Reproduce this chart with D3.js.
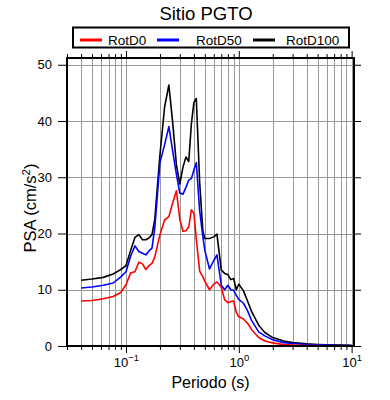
<!DOCTYPE html>
<html>
<head>
<meta charset="utf-8">
<script src="https://cdn.jsdelivr.net/npm/d3@7"></script>
<style>
  body { margin: 0; background: #fff; }
  svg { display: block; font-family: "Liberation Sans", Arial, Helvetica, sans-serif; }
</style>
</head>
<body>
<svg id="chart" width="390" height="400"></svg>
<script>
// Spectral periods (s) and PSA values (cm/s^2)
const periods = [0.04, 0.05, 0.063, 0.077, 0.09, 0.1, 0.11, 0.12, 0.13, 0.14,
  0.15, 0.16, 0.17, 0.18, 0.2, 0.22, 0.24, 0.26, 0.28, 0.3,
  0.32, 0.34, 0.36, 0.38, 0.4, 0.42, 0.45, 0.48, 0.5, 0.55,
  0.6, 0.64, 0.7, 0.75, 0.8, 0.85, 0.9, 0.95, 1.0, 1.1,
  1.2, 1.3, 1.5, 1.7, 2.0, 2.5, 3, 4, 5, 6,
  8, 10];

const rotD0 = [8.0, 8.1, 8.4, 8.8, 9.5, 10.9, 13.0, 13.2, 14.9, 14.6,
  13.6, 14.3, 14.7, 15.8, 19.8, 22.4, 23.0, 25.5, 27.6, 22.5,
  20.4, 20.5, 21.2, 24.2, 23.6, 19.0, 13.3, 12.3, 11.5, 10.0,
  11.0, 11.4, 10.4, 8.2, 7.7, 7.9, 8.0, 6.0, 5.2, 4.8,
  4.0, 2.9, 1.5, 0.9, 0.55, 0.25, 0.15, 0.08, 0.06, 0.05,
  0.04, 0.03];

const rotD50 = [10.3, 10.5, 10.8, 11.2, 12.3, 13.2, 16.0, 17.8, 16.8, 16.5,
  16.2, 16.9, 17.4, 21.0, 32.6, 35.8, 39.0, 34.5, 30.5, 27.2,
  27.0, 28.2, 29.5, 29.8, 31.3, 32.6, 24.0, 19.5, 17.0, 13.7,
  15.2, 16.2, 10.8, 10.0, 10.8, 10.0, 9.9, 9.0, 8.3, 7.6,
  6.2, 4.5, 2.5, 1.8, 1.1, 0.6, 0.45, 0.28, 0.2, 0.15,
  0.1, 0.07];

const rotD100 = [11.7, 11.9, 12.2, 12.8, 13.6, 14.3, 17.0, 19.3, 19.8, 18.9,
  18.9, 19.2, 19.8, 22.5, 34.0, 42.5, 46.4, 39.5, 32.2, 28.8,
  31.8, 33.6, 32.8, 39.5, 43.3, 44.0, 29.0, 20.5, 19.1, 19.1,
  19.4, 19.9, 13.5, 12.9, 12.7, 11.8, 12.0, 10.0, 11.0, 9.8,
  7.9, 6.1, 3.7, 2.4, 1.5, 0.9, 0.6, 0.38, 0.28, 0.22,
  0.15, 0.12];

const seriesNames = ["RotD0", "RotD50", "RotD100"];
const seriesColors = ["#ff0000", "#0000ff", "#000000"];
const seriesValues = [rotD0, rotD50, rotD100];

const yTicks = [0, 10, 20, 30, 40, 50];
const xMajor = [0.1, 1, 10];
const xMajorExp = ["\u22121", "0", "1"];

const svg = d3.select("#chart");
const pLeft = 67, pRight = 354, pTop = 58, pBottom = 346;

const x = d3.scaleLog().domain([0.03, 10.5]).range([pLeft, pRight]);
const y = d3.scaleLinear().domain([0, 51.2]).range([pBottom, pTop]);

// minor ticks for log axis: 1..9 in each decade
const xMinor = [];
for (const dec of [0.01, 0.1, 1, 10]) {
  for (let k = 1; k <= 9; k++) {
    const v = +(dec * k).toPrecision(3);
    if (v >= 0.03 && v <= 10.5 && !xMajor.includes(v)) xMinor.push(v);
  }
}

// grid
const grid = svg.append("g").attr("stroke", "#999").attr("stroke-width", 1);
grid.selectAll("line.v")
  .data(xMinor.concat(xMajor))
  .join("line")
  .attr("class", "v")
  .attr("x1", d => Math.round(x(d)) + 0.5)
  .attr("x2", d => Math.round(x(d)) + 0.5)
  .attr("y1", pTop).attr("y2", pBottom);
grid.selectAll("line.h")
  .data(yTicks.slice(1))
  .join("line")
  .attr("class", "h")
  .attr("x1", pLeft).attr("x2", pRight)
  .attr("y1", d => Math.round(y(d)) + 0.5)
  .attr("y2", d => Math.round(y(d)) + 0.5);

// data lines
svg.append("clipPath").attr("id", "clip")
  .append("rect").attr("x", pLeft).attr("y", pTop)
  .attr("width", pRight - pLeft).attr("height", pBottom - pTop);

const line = d3.line()
  .x((d, i) => x(periods[i]))
  .y(d => y(d));

const order = [2, 1, 0];
svg.append("g").attr("clip-path", "url(#clip)")
  .selectAll("path")
  .data(order)
  .join("path")
  .attr("fill", "none")
  .attr("stroke", i => seriesColors[i])
  .attr("stroke-width", 1.6)
  .attr("stroke-linejoin", "round")
  .attr("d", i => line(seriesValues[i]));

// axes
function styleAxis(g) {
  g.select(".domain").remove();
  g.selectAll(".tick line").attr("stroke", "#000").attr("stroke-width", 1);
  g.selectAll("text").attr("font-size", 13).attr("fill", "#000")
    .attr("font-family", "\"Liberation Sans\", Arial, sans-serif");
}

// bottom
svg.append("g").attr("transform", `translate(0,${pBottom})`)
  .call(d3.axisBottom(x).tickValues(xMinor).tickSize(4).tickFormat(""))
  .call(styleAxis);
const bx = svg.append("g").attr("transform", `translate(0,${pBottom})`)
  .call(d3.axisBottom(x).tickValues(xMajor).tickSize(7).tickFormat(""))
  .call(styleAxis);
bx.selectAll(".tick text").remove();
bx.selectAll(".tick").append("text")
  .attr("y", 21).attr("text-anchor", "middle")
  .attr("font-size", 13).attr("fill", "#000")
  .each(function(d, i) {
    const t = d3.select(this);
    t.append("tspan").text("10");
    t.append("tspan").attr("dy", -6).attr("font-size", 9.5).text(xMajorExp[i]);
  });

// top
svg.append("g").attr("transform", `translate(0,${pTop})`)
  .call(d3.axisTop(x).tickValues(xMinor).tickSize(4).tickFormat(""))
  .call(styleAxis);
svg.append("g").attr("transform", `translate(0,${pTop})`)
  .call(d3.axisTop(x).tickValues(xMajor).tickSize(7).tickFormat(""))
  .call(styleAxis);

// left
svg.append("g").attr("transform", `translate(${pLeft},0)`)
  .call(d3.axisLeft(y).tickValues(yTicks).tickSize(9).tickPadding(6))
  .call(styleAxis);

// right
svg.append("g").attr("transform", `translate(${pRight},0)`)
  .call(d3.axisRight(y).tickValues(yTicks).tickSize(7).tickFormat(""))
  .call(styleAxis);

// frame
svg.append("rect")
  .attr("x", pLeft).attr("y", pTop)
  .attr("width", pRight - pLeft).attr("height", pBottom - pTop)
  .attr("fill", "none").attr("stroke", "#000").attr("stroke-width", 2);

// axis labels
svg.append("text")
  .attr("x", (pLeft + pRight) / 2).attr("y", 388)
  .attr("text-anchor", "middle").attr("font-size", 16)
  .text("Periodo (s)");

const yl = svg.append("text")
  .attr("transform", `translate(35.5,208) rotate(-90)`)
  .attr("text-anchor", "middle").attr("font-size", 16.5);
yl.append("tspan").text("PSA (cm/s");
yl.append("tspan").attr("dy", -6).attr("font-size", 11.5).text("2");
yl.append("tspan").attr("dy", 6).text(")");

// title
svg.append("text")
  .attr("x", 206).attr("y", 20)
  .attr("text-anchor", "middle").attr("font-size", 18.5)
  .text("Sitio PGTO");

// legend
const legend = svg.append("g");
legend.append("rect")
  .attr("x", 73).attr("y", 27.5).attr("width", 276).attr("height", 20)
  .attr("fill", "#fff").attr("stroke", "#000").attr("stroke-width", 2);

const legendLineX = [80, 157, 253];
const legendTextX = [108, 196, 286];
const items = legend.selectAll("g.item")
  .data(seriesNames)
  .join("g")
  .attr("class", "item");
items.append("line")
  .attr("x1", (d, i) => legendLineX[i]).attr("x2", (d, i) => legendLineX[i] + 22)
  .attr("y1", 40).attr("y2", 40)
  .attr("stroke", (d, i) => seriesColors[i]).attr("stroke-width", 3);
items.append("text")
  .attr("x", (d, i) => legendTextX[i]).attr("y", 44.5)
  .attr("font-size", 13.5)
  .text(d => d);
</script>
</body>
</html>
